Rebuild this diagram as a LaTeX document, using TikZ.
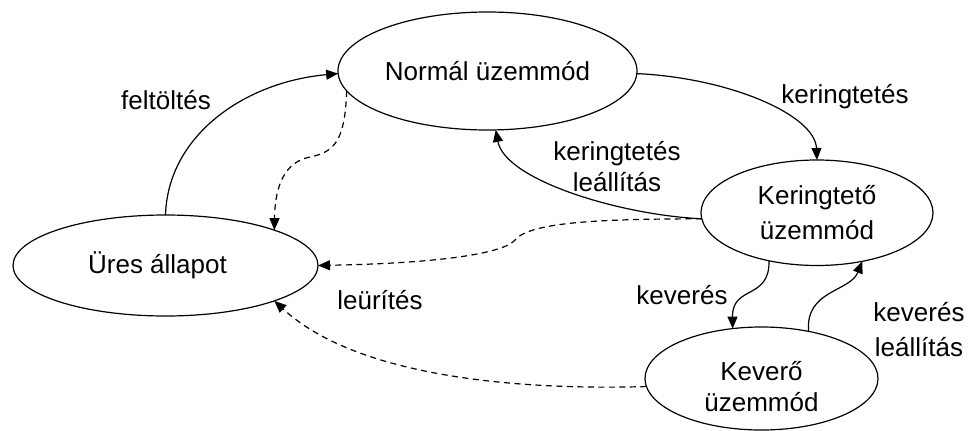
\documentclass[tikz,border=0pt]{standalone}
\usepackage{fontspec}
\setmainfont{Liberation Sans}
\usetikzlibrary{shapes.geometric,arrows.meta}
\begin{document}
\begin{tikzpicture}[x=1pt,y=-1pt,
  state/.style={draw, ellipse, line width=1.2pt, inner sep=0pt, outer sep=0pt, align=center,
    font=\fontsize{26}{35}\selectfont},
  lbl/.style={align=center, inner sep=0pt, font=\fontsize{26}{33}\selectfont},
  conn/.style={line width=1.2pt, -{Triangle[length=12pt,width=10pt]}},
  dconn/.style={conn, dash pattern=on 6pt off 4.5pt}]
\useasboundingbox (0,0) rectangle (970,431);
\node[state, minimum width=299pt, minimum height=118pt] (N) at (487.5,71) {Normál üzemmód};
\node[state, minimum width=232pt, minimum height=105.5pt] (K) at (817,212.75) {Keringtető\\üzemmód};
\node[state, minimum width=305pt, minimum height=101pt] (U) at (165.5,265.5) {\hspace*{-16pt}Üres állapot};
\node[state, minimum width=233pt, minimum height=103pt] (V) at (761.5,378.5) {};
\node[lbl, font=\fontsize{26}{31}\selectfont] (Vt) at (761.5,387) {Keverő\\üzemmód};
% labels
\node[lbl] (l1) at (166,100) {feltöltés};
\node[lbl] (l2) at (845,97) {keringtetés};
\node[lbl, font=\fontsize{26}{31}\selectfont] (l3) at (617,167) {keringtetés\\leállítás};
\node[lbl] (l4) at (380,300) {leürítés};
\node[lbl] (l5) at (682,295) {keverés};
\node[lbl, font=\fontsize{26}{35}\selectfont] (l6) at (919,330) {keverés\\leállítás};
% solid connectors
\draw[conn] (U.north) .. controls (168,135) and (245,82) .. (N.181);
\draw[conn] (N.-1) .. controls (730,78) and (815,115) .. (K.north);
\draw[conn] (K.183) .. controls (620,215) and (505,180) .. (N.-82);
\draw[conn] (K.-135) .. controls (770,300) and (732,285) .. (V.120);
\draw[conn] (V.45) .. controls (805,290) and (850,292) .. (K.-47);
% dashed connectors
\draw[dconn] (N.188) .. controls (345,140) and (335,152) .. (310,157)
  .. controls (285,162) and (275,185) .. (U.18);
\draw[dconn] (K.183) .. controls (600,219) and (530,222) .. (515,240)
  .. controls (505,252) and (450,263) .. (U.east);
\draw[dconn] (V.184) .. controls (530,390) and (360,380) .. (U.-18);
\end{tikzpicture}
\end{document}
